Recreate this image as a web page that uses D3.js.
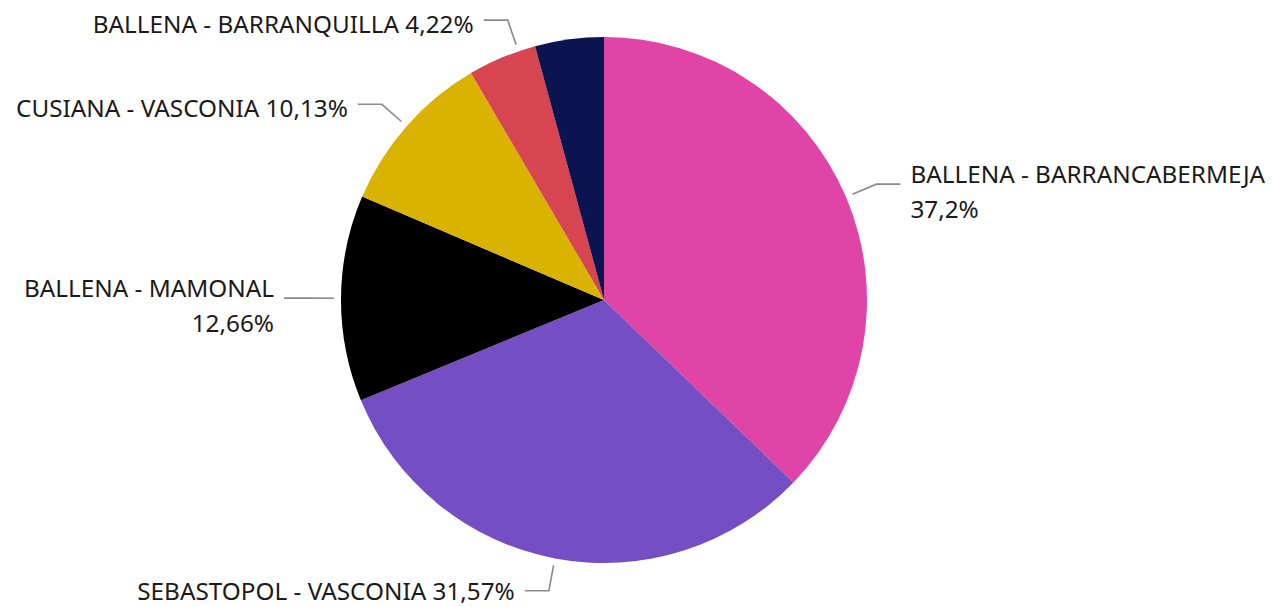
<!DOCTYPE html>
<html>
<head>
<meta charset="utf-8">
<script src="https://cdn.jsdelivr.net/npm/d3@7"></script>
<style>
  html, body { margin: 0; padding: 0; background: #fff; }
  svg text { font-family: "Noto Sans", "Open Sans", sans-serif; fill: #1b1a19; }
</style>
</head>
<body>
<svg id="chart" width="1272" height="607"></svg>
<script>
// Share of volume by route (clockwise from 12 o'clock)
const routes = [
  "BALLENA - BARRANCABERMEJA",
  "SEBASTOPOL - VASCONIA",
  "BALLENA - MAMONAL",
  "CUSIANA - VASCONIA",
  "BALLENA - BARRANQUILLA",
  "OTRAS RUTAS"
];
const shares = [37.2, 31.57, 12.66, 10.13, 4.22, 4.22];
const shareLabels = ["37,2%", "31,57%", "12,66%", "10,13%", "4,22%", "4,22%"];
const sliceColors = ["#E044A7", "#744EC2", "#000000", "#D9B300", "#D64550", "#0A1450"];

const W = 1272, H = 607;
const svg = d3.select("#chart");
const cx = 604, cy = 300, radius = 263;

const data = routes.map((r, i) => ({ route: r, value: shares[i], label: shareLabels[i], color: sliceColors[i], idx: i }));

const pie = d3.pie().value(d => d.value).sort(null);
const arcs = pie(data);
const arc = d3.arc().innerRadius(0).outerRadius(radius);

const g = svg.append("g").attr("transform", `translate(${cx},${cy})`);

g.selectAll("path.slice")
  .data(arcs)
  .join("path")
  .attr("class", "slice")
  .attr("d", arc)
  .attr("fill", d => d.data.color);

// Label layout: which labels are drawn, wrapped, and small angular nudges to avoid crowding
const hidden = new Set([5]);
const wrapped = new Set([0, 2]);
const nudgeDeg = { 4: 3.8 };

const startR = radius + 7, elbowR = radius + 33, tail = 24, gap = 10;
const fontSize = 24.3, lineGap = 35;

const lab = svg.append("g");
arcs.forEach(a => {
  const i = a.data.idx;
  if (hidden.has(i)) return;
  const mid = (a.startAngle + a.endAngle) / 2 + (nudgeDeg[i] || 0) * Math.PI / 180;
  const sx = Math.sin(mid), sy = -Math.cos(mid);
  const p0 = [cx + startR * sx, cy + startR * sy];
  const p1 = [cx + elbowR * sx, cy + elbowR * sy];
  const right = sx >= 0;
  const p2 = [p1[0] + (right ? tail : -tail), p1[1]];

  lab.append("path")
    .attr("d", d3.line()([p0, p1, p2]))
    .attr("fill", "none")
    .attr("stroke", "#8a8a8a")
    .attr("stroke-width", 1.6);

  const tx = p2[0] + (right ? gap : -gap);
  const anchor = right ? "start" : "end";
  const lines = wrapped.has(i) ? [a.data.route, a.data.label] : [`${a.data.route} ${a.data.label}`];
  const y1 = wrapped.has(i) ? p1[1] - 11 : p1[1] + 3;
  const block = lab.append("g");
  lines.forEach((t, k) => {
    block.append("text")
      .attr("x", tx).attr("y", y1 + k * lineGap)
      .attr("dominant-baseline", "central")
      .attr("text-anchor", anchor)
      .attr("font-size", fontSize)
      .text(t);
  });
  // keep the label block inside the drawing area
  const bb = block.node().getBBox();
  const overflow = bb.y + bb.height - H;
  if (overflow > 0) block.attr("transform", `translate(0,${-overflow})`);
});
</script>
</body>
</html>
